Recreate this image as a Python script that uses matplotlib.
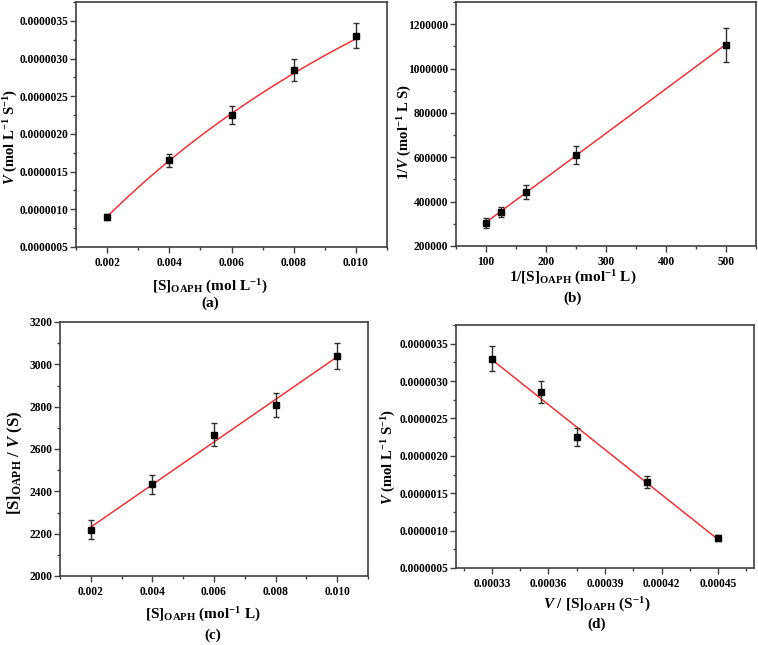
import numpy as np
import matplotlib
matplotlib.use("Agg")
import matplotlib.pyplot as plt
from matplotlib.ticker import FormatStrFormatter, MultipleLocator

plt.rcParams['font.family'] = ['Liberation Serif', 'DejaVu Serif']
plt.rcParams['font.weight'] = 'bold'
plt.rcParams['axes.labelweight'] = 'bold'
plt.rcParams['mathtext.fontset'] = 'custom'
plt.rcParams['mathtext.rm'] = 'Liberation Serif:bold'
plt.rcParams['mathtext.it'] = 'Liberation Serif:italic:bold'
plt.rcParams['mathtext.bf'] = 'Liberation Serif:bold'

# ---- data ----
S = [0.002, 0.004, 0.006, 0.008, 0.010]
V = [9.0e-7, 1.65e-6, 2.25e-6, 2.85e-6, 3.3e-6]
V_err = [0.4e-7, 0.85e-7, 1.2e-7, 1.45e-7, 1.65e-7]

invS = [100, 125, 166.7, 250, 500]
invV = [305000, 353000, 445000, 610000, 1108000]
invV_err = [22000, 23000, 31000, 41000, 77000]

S_over_V = [2219, 2434, 2668, 2807, 3038]
S_over_V_err = [45, 45, 54, 57, 61]

V_over_S = [0.00045, 0.0004125, 0.000375, 0.000356, 0.00033]
V_d = [9.0e-7, 1.65e-6, 2.25e-6, 2.85e-6, 3.3e-6]
V_d_err = [0.4e-7, 0.85e-7, 1.2e-7, 1.45e-7, 1.65e-7]

W, H = 758, 645
fig = plt.figure(figsize=(W / 100, H / 100), dpi=100)

def ax_at(l, r, t, b):
    return fig.add_axes([l / W, 1 - b / H, (r - l) / W, (b - t) / H])

def style(ax):
    for s in ax.spines.values():
        s.set_color('#404040')
        s.set_linewidth(1.2)
    ax.tick_params(which='both', direction='out', top=False, right=False,
                   colors='#404040', labelcolor='black', labelsize=8.3, width=1)
    ax.tick_params(which='major', length=4)
    ax.tick_params(which='minor', length=2.5)
    ax.tick_params(axis='y', which='major', pad=1.5)
    ax.tick_params(axis='x', which='major', pad=3.5)
    for lab in ax.get_xticklabels() + ax.get_yticklabels():
        lab.set_fontweight('bold')

def labels(ax, xl, xpos, yl, ypos, fs_x=11, fs_y=10.5):
    ax.set_xlabel(xl, fontsize=fs_x, fontweight='bold', va='center', ha='center')
    ax.xaxis.set_label_coords(*xpos)
    ax.set_ylabel(yl, fontsize=fs_y, fontweight='bold', va='center', ha='center')
    ax.yaxis.set_label_coords(*ypos)

def pts(ax, x, y, e):
    ax.errorbar(x, y, yerr=e, fmt='s', color='black', ms=5, ecolor='#303030',
                elinewidth=1, capsize=2.5, capthick=1, zorder=3)

red = '#ff2020'
sup = lambda s: r'$^{\mathrm{' + s + '}}$'

# (a)
axa = ax_at(76, 387, 2, 247)
k = np.polyfit(invS, invV, 1)
Vmax = 1 / k[1]
Km = k[0] * Vmax
xs = np.linspace(min(S), max(S), 100)
axa.plot(xs, Vmax * xs / (Km + xs), color=red, lw=1, zorder=2)
pts(axa, S, V, V_err)
axa.set_xlim(0.001, 0.011)
axa.set_ylim(5e-7, 3.75e-6)
axa.set_xticks([0.002, 0.004, 0.006, 0.008, 0.010])
axa.xaxis.set_minor_locator(MultipleLocator(0.001))
axa.yaxis.set_major_locator(MultipleLocator(5e-7))
axa.yaxis.set_minor_locator(MultipleLocator(2.5e-7))
axa.xaxis.set_major_formatter(FormatStrFormatter('%.3f'))
axa.yaxis.set_major_formatter(FormatStrFormatter('%.7f'))
labels(axa, r'$\mathrm{[S]_{OAPH}}$ (mol L' + sup('-1') + ')', (0.431, -0.163),
       r'$V$ (mol L' + sup('-1') + ' S' + sup('-1') + ')', (-0.21, 0.449))
style(axa)
fig.text(210 / W, 1 - 303 / H, '(a)', ha='center', va='center', fontsize=11, fontweight='bold')

# (b)
axb = ax_at(456, 756, 2, 246)
xb = np.array([min(invS), max(invS)])
axb.plot(xb, np.polyval(k, xb), color=red, lw=1, zorder=2)
pts(axb, invS, invV, invV_err)
axb.set_xlim(50, 550)
axb.set_ylim(200000, 1300000)
axb.set_xticks([100, 200, 300, 400, 500])
axb.xaxis.set_minor_locator(MultipleLocator(50))
axb.set_yticks([200000, 400000, 600000, 800000, 1000000, 1200000])
axb.yaxis.set_minor_locator(MultipleLocator(100000))
axb.yaxis.set_major_formatter(FormatStrFormatter('%d'))
labels(axb, r'1/$\mathrm{[S]_{OAPH}}$ (mol' + sup('-1') + ' L)', (0.39, -0.13),
       r'1/$V$ (mol' + sup('-1') + ' L S)', (-0.172, 0.467))
style(axb)
fig.text(573 / W, 1 - 298 / H, '(b)', ha='center', va='center', fontsize=11, fontweight='bold')

# (c)
axc = ax_at(60, 368, 322, 576)
kc = np.polyfit(S, S_over_V, 1)
xc = np.array([min(S), max(S)])
axc.plot(xc, np.polyval(kc, xc), color=red, lw=1, zorder=2)
pts(axc, S, S_over_V, S_over_V_err)
axc.set_xlim(0.001, 0.011)
axc.set_ylim(2000, 3200)
axc.set_xticks([0.002, 0.004, 0.006, 0.008, 0.010])
axc.xaxis.set_minor_locator(MultipleLocator(0.001))
axc.yaxis.set_major_locator(MultipleLocator(200))
axc.yaxis.set_minor_locator(MultipleLocator(100))
axc.xaxis.set_major_formatter(FormatStrFormatter('%.3f'))
axc.yaxis.set_major_formatter(FormatStrFormatter('%d'))
labels(axc, r'$\mathrm{[S]_{OAPH}}$ (mol' + sup('-1') + ' L)', (0.464, -0.154),
       r'$\mathrm{[S]_{OAPH}}$ / $V$ (S)', (-0.146, 0.445), fs_y=12)
style(axc)
fig.text(213 / W, 1 - 635 / H, '(c)', ha='center', va='center', fontsize=11, fontweight='bold')

# (d)
axd = ax_at(456, 754, 325, 568)
kd = np.polyfit(V_over_S, V_d, 1)
xd = np.array([min(V_over_S), max(V_over_S)])
axd.plot(xd, np.polyval(kd, xd), color=red, lw=1, zorder=2)
pts(axd, V_over_S, V_d, V_d_err)
axd.set_xlim(0.000311, 0.000469)
axd.set_ylim(5e-7, 3.75e-6)
axd.set_xticks([0.00033, 0.00036, 0.00039, 0.00042, 0.00045])
axd.xaxis.set_minor_locator(MultipleLocator(0.000015))
axd.yaxis.set_major_locator(MultipleLocator(5e-7))
axd.yaxis.set_minor_locator(MultipleLocator(2.5e-7))
axd.xaxis.set_major_formatter(FormatStrFormatter('%.5f'))
axd.yaxis.set_major_formatter(FormatStrFormatter('%.7f'))
labels(axd, r'$V$ / $\mathrm{[S]_{OAPH}}$ (S' + sup('-1') + ')', (0.473, -0.152),
       r'$V$ (mol L' + sup('-1') + ' S' + sup('-1') + ')', (-0.225, 0.457))
style(axd)
fig.text(597 / W, 1 - 624 / H, '(d)', ha='center', va='center', fontsize=11, fontweight='bold')

fig.savefig('out.png', dpi=100)
